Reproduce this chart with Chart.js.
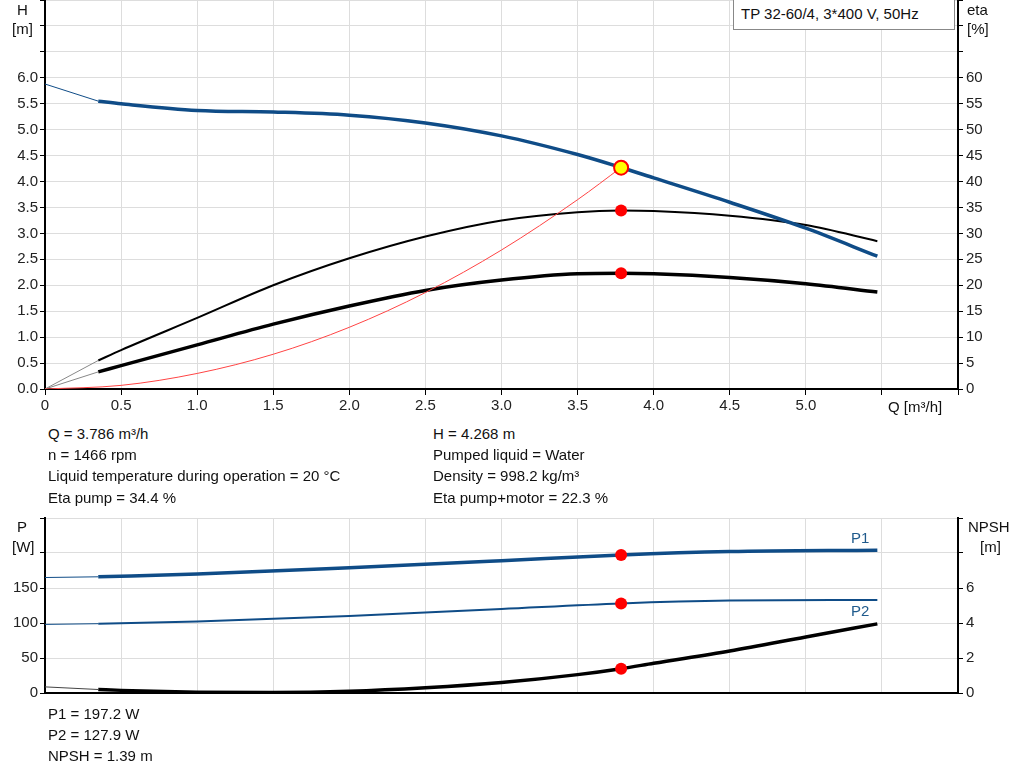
<!DOCTYPE html>
<html><head><meta charset="utf-8">
<script src="https://cdn.jsdelivr.net/npm/chart.js@4"></script>
<style>
body{margin:0;background:#fff;font-family:"Liberation Sans",Arial,sans-serif;color:#111;}
#w{position:relative;width:1024px;height:781px;overflow:hidden}
canvas{position:absolute;left:0}
.t{position:absolute;font-size:15px;white-space:nowrap;line-height:18px}
</style></head><body><div id="w">
<canvas id="c1" style="top:-12px"></canvas>
<canvas id="c2" style="top:502px"></canvas>
<div class="t" style="left:733px;top:0;width:222px;height:30px;border:1px solid #888;border-top:none;box-sizing:border-box;padding:5px 0 0 7px;background:#fff">TP 32-60/4, 3*400 V, 50Hz</div>
<div class="t" style="left:17px;top:1px">H</div><div class="t" style="left:12px;top:20px">[m]</div>
<div class="t" style="left:967px;top:1px">eta</div><div class="t" style="left:967px;top:20px">[%]</div>
<div class="t" style="left:888px;top:398px">Q [m³/h]</div>
<div class="t" style="left:48px;top:425px">Q = 3.786 m³/h</div>
<div class="t" style="left:48px;top:446px">n = 1466 rpm</div>
<div class="t" style="left:48px;top:467px">Liquid temperature during operation = 20 °C</div>
<div class="t" style="left:48px;top:489px">Eta pump = 34.4 %</div>
<div class="t" style="left:433px;top:425px">H = 4.268 m</div>
<div class="t" style="left:433px;top:446px">Pumped liquid = Water</div>
<div class="t" style="left:433px;top:467px">Density = 998.2 kg/m³</div>
<div class="t" style="left:433px;top:489px">Eta pump+motor = 22.3 %</div>
<div class="t" style="left:17px;top:518px">P</div><div class="t" style="left:12px;top:538px">[W]</div>
<div class="t" style="left:968px;top:518px">NPSH</div><div class="t" style="left:980px;top:538px">[m]</div>
<div class="t" style="left:851px;top:529px;color:#1f5a8c">P1</div>
<div class="t" style="left:851px;top:602px;color:#1f5a8c">P2</div>
<div class="t" style="left:48px;top:705px">P1 = 197.2 W</div>
<div class="t" style="left:48px;top:726px">P2 = 127.9 W</div>
<div class="t" style="left:48px;top:747px">NPSH = 1.39 m</div>
</div>
<script>
const qH_thin=[0,0.35], H_thin=[5.88,5.55];
const qMain=[0.35,0.5,1.0,1.5,2.0,2.5,3.0,3.5,3.786,4.0,4.5,5.0,5.47];
const H=[5.55,5.50,5.37,5.34,5.28,5.13,4.88,4.52,4.27,4.07,3.60,3.10,2.56];
const etaPump=[5.5,7.5,13.7,20,25.2,29.4,32.5,34.1,34.4,34.3,33.4,31.6,28.5];
const etaPM=[3.3,4.5,8.5,12.5,16,19,21,22.2,22.3,22.2,21.5,20.3,18.7];
const qSys=[0,0.5,1.0,1.5,2.0,2.5,3.0,3.5,3.786];
const Hsys=[0,0.07,0.3,0.67,1.19,1.86,2.68,3.65,4.27];
const qP=[0.35,1.0,2.0,3.0,3.786,4.5,5.47];
const P1=[166,170,179,189,197.2,202,204];
const P2=[99,102,110,120,127.9,132,133];
const qN=[0.35,0.5,1.0,1.5,2.0,2.5,3.0,3.5,3.786,4.0,4.5,5.0,5.47];
const NPSH=[0.2,0.15,0.05,0.03,0.1,0.3,0.6,1.05,1.39,1.7,2.4,3.2,3.95];
const op={Q:3.786,H:4.268,eta:34.4,etaPM:22.3,P1:197.2,P2:127.9,NPSH:1.39};
const blue='#0f4c87';
const pts=(xs,ys)=>xs.map((x,i)=>({x,y:ys[i]}));
const F={family:'"Liberation Sans",Arial,sans-serif',size:15};
function line(data,color,w,axis){return{type:'line',data,borderColor:color,borderWidth:w,pointRadius:0,cubicInterpolationMode:'monotone',yAxisID:axis,fill:false};}
function dot(x,y,axis,bg,bc){return{type:'scatter',data:[{x,y}],yAxisID:axis,pointRadius:bg==='#ff0'?7:6,backgroundColor:bg,borderColor:bc,borderWidth:bg==='#ff0'?2:0};}
function fixW(w){return s=>{s.width=w;};}
function fixH(h){return s=>{s.height=h;};}
const c1=document.getElementById('c1');c1.width=1024;c1.height=432;
new Chart(c1,{data:{datasets:[
 dot(op.Q,op.H,'y','#ff0','#f00'),dot(op.Q,op.eta,'y2','#f00','#f00'),dot(op.Q,op.etaPM,'y2','#f00','#f00'),
 line(pts(qSys,Hsys),'#f44',1,'y'),
 line(pts(qH_thin,H_thin),blue,1,'y'),line(pts(qMain,H),blue,3.5,'y'),
 line(pts([0,0.35],[0,5.5]),'#888',1,'y2'),line(pts([0,0.35],[0,3.3]),'#888',1,'y2'),
 line(pts(qMain,etaPump),'#000',2,'y2'),line(pts(qMain,etaPM),'#000',3.5,'y2')
]},options:{responsive:false,animation:false,layout:{padding:0},plugins:{legend:{display:false},tooltip:{enabled:false}},
 scales:{
  x:{type:'linear',min:0,max:6,afterFit:fixH(31),border:{color:'#000',width:2},grid:{color:'#ddd',tickColor:'#000',tickLength:6},
     ticks:{stepSize:0.5,color:'#222',font:F,padding:2,callback:v=>v>5.01?'':(v===0?'0':v.toFixed(1))}},
  y:{position:'left',min:0,max:7.5,afterFit:fixW(45),border:{color:'#000',width:2},grid:{color:'#ddd',tickColor:'#000',tickLength:5},
     ticks:{stepSize:0.5,color:'#222',font:F,padding:2,callback:v=>v>6.01?'':v.toFixed(1)}},
  y2:{position:'right',min:0,max:75,afterFit:fixW(66),border:{color:'#000',width:2},grid:{drawOnChartArea:false,tickColor:'#000',tickLength:5},
     ticks:{stepSize:5,color:'#222',font:F,padding:3,callback:v=>v>60?'':v}}
 }}});
const c2=document.getElementById('c2');c2.width=1024;c2.height=210;
new Chart(c2,{data:{datasets:[
 dot(op.Q,op.P1,'y','#f00','#f00'),dot(op.Q,op.P2,'y','#f00','#f00'),dot(op.Q,op.NPSH,'y2','#f00','#f00'),
 line(pts([0,0.35],[165,166]),blue,1,'y'),line(pts(qP,P1),blue,3.5,'y'),
 line(pts([0,0.35],[98,99]),blue,1,'y'),line(pts(qP,P2),blue,2,'y'),
 line(pts([0,0.35],[0.35,0.2]),'#444',1,'y2'),line(pts(qN,NPSH),'#000',3.5,'y2')
]},options:{responsive:false,animation:false,layout:{padding:{top:16}},plugins:{legend:{display:false},tooltip:{enabled:false}},
 scales:{
  x:{type:'linear',min:0,max:6,afterFit:fixH(19),border:{color:'#000',width:2},grid:{color:'#ddd',drawTicks:false},ticks:{display:false,stepSize:0.5}},
  y:{position:'left',min:0,max:250,afterFit:fixW(45),border:{color:'#000',width:2},grid:{color:'#ddd',tickColor:'#000',tickLength:5},
     ticks:{stepSize:50,color:'#222',font:F,padding:2,callback:v=>v>150?'':v}},
  y2:{position:'right',min:0,max:10,afterFit:fixW(66),border:{color:'#000',width:2},grid:{drawOnChartArea:false,tickColor:'#000',tickLength:5},
     ticks:{stepSize:2,color:'#222',font:F,padding:3,callback:v=>v>6?'':v}}
 }}});
</script></body></html>
